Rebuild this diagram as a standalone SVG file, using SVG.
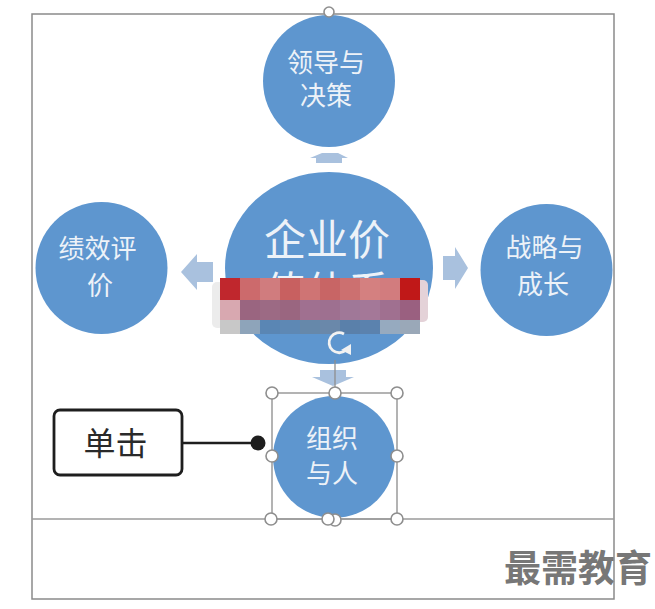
<svg xmlns="http://www.w3.org/2000/svg" width="655" height="609" viewBox="0 0 655 609">
<style>
.c{fill:#5e96cf}
.t{font-family:"Noto Sans CJK SC","Noto Sans",sans-serif;fill:#edf2f8;text-anchor:middle}
.a{fill:#a9c1de}
.h{fill:#fff;stroke:#8e8e8e;stroke-width:1.6}
.sel{fill:none;stroke:#9a9a9a;stroke-width:1.5}
</style>
<rect width="655" height="609" fill="#fff"/>
<g id="watermark">
<text x="504" y="582" font-family="'Noto Sans CJK SC',sans-serif" font-weight="700" font-size="37" fill="#777">最需教育</text>
</g>
<rect x="32" y="14" width="582" height="585" fill="none" stroke="#8a8a8a" stroke-width="1.5"/>
<line x1="32" y1="519" x2="614" y2="519" stroke="#9a9a9a" stroke-width="1.5"/>
<g id="connectors">
<polygon class="a" points="322,153 338,153 348,158 342,158 342,163 316,163 316,158 310,158"/>
<polygon class="a" points="181,272 197,254 197,262 213,262 213,282 197,282 197,290"/>
<polygon class="a" points="468,268 455,247 455,256 443,256 443,280 455,280 455,289"/>
<polygon class="a" points="320,370 346,370 346,377 354,377 333,386 312,377 320,377"/>
</g>
<g id="top"><circle class="c" cx="329" cy="81" r="66"/>
<text class="t" font-size="26" x="326" y="72">领导与</text>
<text class="t" font-size="26" x="326" y="105">决策</text></g>
<circle class="h" cx="329" cy="12" r="5"/>
<g id="left"><circle class="c" cx="101.5" cy="268" r="66"/>
<text class="t" font-size="26" x="97.5" y="258">绩效评</text>
<text class="t" font-size="26" x="100" y="295">价</text></g>
<g id="right"><circle class="c" cx="546.5" cy="270" r="66"/>
<text class="t" font-size="26" x="544.5" y="257">战略与</text>
<text class="t" font-size="26" x="543" y="294">成长</text></g>
<g id="center"><ellipse class="c" cx="329" cy="268" rx="104" ry="96"/>
<text class="t" font-size="42" x="327" y="255">企业价</text>
<text class="t" font-size="42" x="327" y="307">值体系</text></g>
<g id="mosaic">
<rect x="212" y="282" width="12" height="46" rx="5" fill="#ececec"/>
<rect x="414" y="280" width="14" height="42" rx="5" fill="#e4d2d8"/>
<rect x="220" y="278" width="20" height="22" fill="#c0272d"/>
<rect x="240" y="278" width="20" height="22" fill="#cc6a6c"/>
<rect x="260" y="278" width="20" height="22" fill="#d07c7e"/>
<rect x="280" y="278" width="20" height="22" fill="#c86060"/>
<rect x="300" y="278" width="20" height="22" fill="#cf7474"/>
<rect x="320" y="278" width="20" height="22" fill="#c86565"/>
<rect x="340" y="278" width="20" height="22" fill="#cc7070"/>
<rect x="360" y="278" width="20" height="22" fill="#d48080"/>
<rect x="380" y="278" width="20" height="22" fill="#d27c7e"/>
<rect x="400" y="278" width="20" height="22" fill="#c01818"/>
<rect x="220" y="300" width="20" height="20" fill="#d8a8b0"/>
<rect x="240" y="300" width="20" height="20" fill="#9a6580"/>
<rect x="260" y="300" width="20" height="20" fill="#9c6a84"/>
<rect x="280" y="300" width="20" height="20" fill="#9a6680"/>
<rect x="300" y="300" width="20" height="20" fill="#a07090"/>
<rect x="320" y="300" width="20" height="20" fill="#9e7090"/>
<rect x="340" y="300" width="20" height="20" fill="#a07898"/>
<rect x="360" y="300" width="20" height="20" fill="#a47898"/>
<rect x="380" y="300" width="20" height="20" fill="#a07090"/>
<rect x="400" y="300" width="20" height="20" fill="#9a6080"/>
<rect x="220" y="320" width="20" height="14" fill="#c8c8c8"/>
<rect x="240" y="320" width="20" height="14" fill="#8ea4ba"/>
<rect x="260" y="320" width="20" height="14" fill="#5a86b4"/>
<rect x="280" y="320" width="20" height="14" fill="#5e88b4"/>
<rect x="300" y="320" width="20" height="14" fill="#6688aa"/>
<rect x="320" y="320" width="20" height="14" fill="#6a88aa"/>
<rect x="340" y="320" width="20" height="14" fill="#5a80aa"/>
<rect x="360" y="320" width="20" height="14" fill="#5b82ae"/>
<rect x="380" y="320" width="20" height="14" fill="#96aabf"/>
<rect x="400" y="320" width="20" height="14" fill="#9aa8b8"/>
</g>
<path d="M344,334 A10,10 0 1 0 346,350" fill="none" stroke="#f2f2f2" stroke-width="2.8"/>
<polygon points="341,350 351,344 351,355" fill="#f2f2f2"/>
<line x1="335" y1="360" x2="335" y2="393" stroke="#8e8e8e" stroke-width="1.3"/>
<g id="bottom"><circle class="c" cx="334" cy="457" r="61"/>
<text class="t" font-size="26" x="332" y="448">组织</text>
<text class="t" font-size="26" x="332" y="483">与人</text></g>
<g id="selection">
<rect class="sel" x="272" y="393" width="125" height="126"/>
<circle class="h" cx="272" cy="393" r="6"/>
<circle class="h" cx="335" cy="393" r="6"/>
<circle class="h" cx="397" cy="393" r="6"/>
<circle class="h" cx="272" cy="456" r="6"/>
<circle class="h" cx="397" cy="456" r="6"/>
<circle class="h" cx="271" cy="519" r="6"/>
<circle class="h" cx="335" cy="520" r="6"/>
<circle class="h" cx="328" cy="519" r="6"/>
<circle class="h" cx="397" cy="519" r="6"/>
</g>
<g id="callout">
<rect x="54" y="410" width="128" height="65" rx="6" fill="#fff" stroke="#1e1e1e" stroke-width="2.8"/>
<text x="115.5" y="455" font-family="'Noto Sans CJK SC',sans-serif" font-size="32" fill="#2a2a2a" text-anchor="middle">单击</text>
<line x1="182" y1="443" x2="258" y2="443" stroke="#1e1e1e" stroke-width="2.6"/>
<circle cx="258" cy="443" r="7.5" fill="#1e1e1e"/>
</g>
</svg>
